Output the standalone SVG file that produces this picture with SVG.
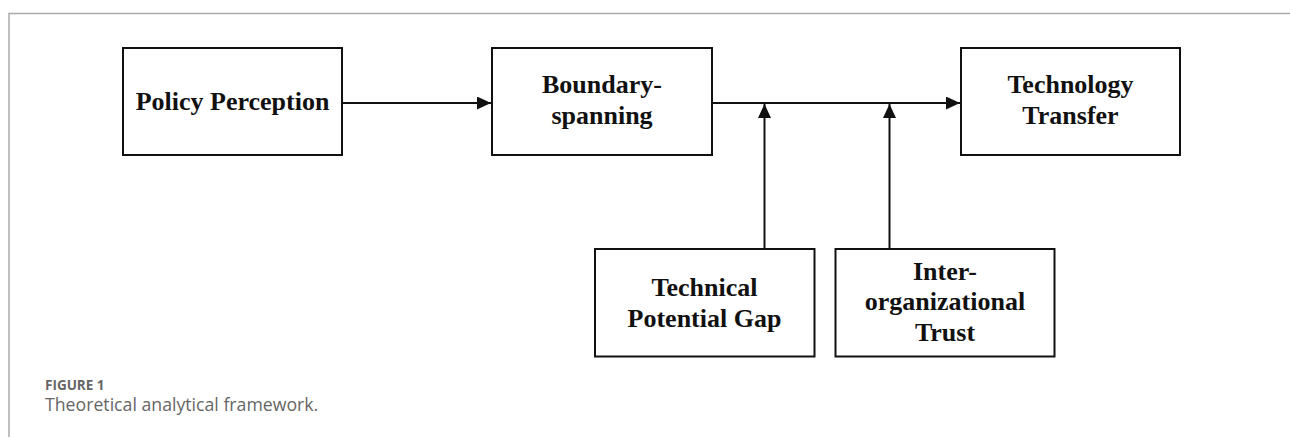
<svg xmlns="http://www.w3.org/2000/svg" width="1290" height="437" viewBox="0 0 1290 437">
  <style>
    .box { fill: #ffffff; stroke: #111111; stroke-width: 2; }
    .lbl { font-family: "Liberation Serif", "Times New Roman", serif; font-weight: bold; font-size: 26px; fill: #111111; text-anchor: middle; }
    .wire { fill: none; stroke: #111111; stroke-width: 2; }
    .frame { fill: none; stroke: #aaaaaa; stroke-width: 1.5; }
    .cap-head { font-family: "Open Sans", "Liberation Sans", sans-serif; font-weight: bold; font-size: 13.5px; fill: #666666; }
    .cap-text { font-family: "Open Sans", "Liberation Sans", sans-serif; font-size: 17.7px; fill: #666666; }
  </style>
  <defs>
    <marker id="arrow" viewBox="0 0 14 13" refX="14" refY="6.5" markerWidth="14" markerHeight="13" markerUnits="userSpaceOnUse" orient="auto">
      <path d="M0,0 L14,6.5 L0,13 Z" fill="#111111"/>
    </marker>
  </defs>

  <rect width="1290" height="437" fill="#ffffff"/>
  <!-- figure frame: top and left rules -->
  <path class="frame" d="M9,437 L9,13.5 L1290,13.5"/>

  <g id="connectors">
    <line class="wire" x1="343" y1="103" x2="491" y2="103" marker-end="url(#arrow)"/>
    <line class="wire" x1="713" y1="103" x2="960" y2="103" marker-end="url(#arrow)"/>
    <line class="wire" x1="764.5" y1="249" x2="764.5" y2="104" marker-end="url(#arrow)"/>
    <line class="wire" x1="889.5" y1="249" x2="889.5" y2="104" marker-end="url(#arrow)"/>
  </g>

  <g id="policy-perception">
    <rect class="box" x="123" y="48" width="219" height="107"/>
    <text class="lbl" x="232.5" y="109.5">Policy Perception</text>
  </g>

  <g id="boundary-spanning">
    <rect class="box" x="492" y="48" width="220" height="107"/>
    <text class="lbl" x="602" y="93">Boundary-</text>
    <text class="lbl" x="602" y="124">spanning</text>
  </g>

  <g id="technology-transfer">
    <rect class="box" x="961" y="48" width="219" height="107"/>
    <text class="lbl" x="1070.5" y="93">Technology</text>
    <text class="lbl" x="1070.5" y="124">Transfer</text>
  </g>

  <g id="technical-potential-gap">
    <rect class="box" x="595" y="249" width="219.5" height="107.5"/>
    <text class="lbl" x="704.5" y="296">Technical</text>
    <text class="lbl" x="704.5" y="326.5">Potential Gap</text>
  </g>

  <g id="inter-organizational-trust">
    <rect class="box" x="835.5" y="249" width="219" height="107.5"/>
    <text class="lbl" x="945" y="279.5">Inter-</text>
    <text class="lbl" x="945" y="310">organizational</text>
    <text class="lbl" x="945" y="340.5">Trust</text>
  </g>

  <g id="caption">
    <text class="cap-head" x="45" y="390">FIGURE 1</text>
    <text class="cap-text" x="45" y="411">Theoretical analytical framework.</text>
  </g>
</svg>
